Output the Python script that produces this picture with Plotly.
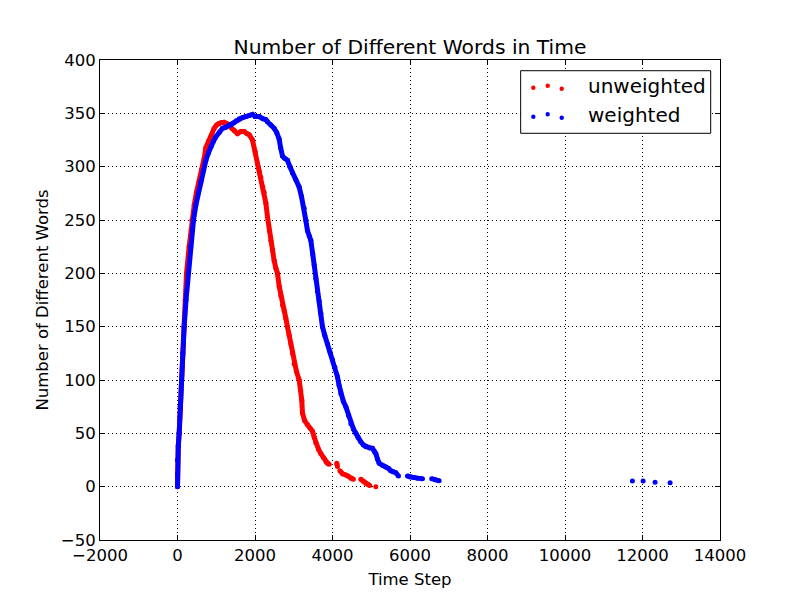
import plotly.graph_objects as go

# time step / number of different words, None = gap between point clusters
unweighted_x = [0, 0, 0, 20, 43, 70, 103, 135, 172, 200, 232, 300, 371, 431, 490, 560, 620, 689,
                733, 800, 862, 947, 1010, 1076, 1140, 1205, 1270, 1334, 1400, 1463, 1548, 1636,
                1721, 1790, 1850, 1935, 2005, 2064, 2110, 2151, 2200, 2237, 2280, 2322, 2370, 2408,
                2451, 2494, 2537, 2580, 2623, 2666, 2710, 2752, 2795, 2838, 2880, 2924, 2967, 3010,
                3070, 3139, 3180, 3208, 3225, 3280, 3354, 3420, 3483, 3530, 3570, 3640, 3700, 3770,
                3828, 3870, 3914, None, 4110, 4128, None, 4190, 4260, 4343, 4400, 4473, 4540, None,
                4730, 4790, 4860, 4920, 4960, None, 5118]
unweighted_y = [0, 12, 25, 38, 50, 75, 100, 125, 150, 175, 200, 225, 250, 264, 276, 286, 297, 308,
                318, 324, 328, 336, 339, 340.7, 341.5, 341.6, 340.5, 339, 336, 334, 331, 333,
                333, 331, 330, 325, 314, 303, 296, 290, 281, 276, 266, 253, 240, 231,
                222, 212, 205, 200, 188, 179, 170, 165, 158, 150, 142, 134, 125, 115,
                108, 100, 90, 81, 69, 62, 58, 55, 52, 46, 41, 35, 31, 27,
                23.5, 22, 21, None, 22, 19, None, 15, 12, 11, 10, 8, 7, None,
                7, 5, 3, 2, 1, None, 0]

weighted_x = [0, 0, 0, 20, 43, 70, 103, 135, 172, 220, 276, 340, 413, 474, 540, 603, 670, 733,
              800, 862, 930, 990, 1076, 1162, 1250, 1334, 1378, 1450, 1520, 1592, 1680, 1764,
              1850, 1935, 2000, 2108, 2200, 2280, 2322, 2410, 2494, 2560, 2623, 2660, 2709, 2760,
              2838, 2900, 2967, 3050, 3139, 3200, 3268, 3310, 3354, 3400, 3440, 3490, 3527, 3570,
              3612, 3656, 3700, 3741, 3800, 3870, 3930, 4000, 4060, 4128, 4170, 4215, 4280, 4344,
              4410, 4473, 4540, 4602, 4660, 4730, 4800, 4860, 4950, 5030, 5080, 5118, 5160, 5204,
              5290, 5376, 5450, 5500, 5560, 5634, 5703, None, 5935, 6000, 6100, 6200, 6322, None,
              6560, 6650, 6752, None, 11740, None, 12016, None, 12325, None, 12712]
weighted_y = [0, 12, 25, 38, 50, 75, 100, 125, 150, 175, 200, 225, 250, 264, 276, 286, 297, 306,
              313, 319, 324, 328, 332, 336, 337, 339, 339, 341, 343, 345, 346, 347,
              348, 349, 347, 347, 345, 344, 342, 339, 336, 332, 326, 318, 310, 308,
              306, 300, 294, 288, 281, 272, 261, 250, 240, 235, 231, 218, 208, 195,
              183, 174, 162, 150, 142, 134, 127, 119, 112, 103, 95, 87, 80, 75,
              67, 59, 54, 50, 46, 42, 39, 37.5, 36.5, 36, 33, 31, 26, 22,
              20, 18.5, 17, 15, 14, 13, 10, None, 10, 9, 8.5, 8, 7.5, None,
              7.5, 6.5, 5.5, None, 5.3, None, 5.3, None, 4.1, None, 3.75]

series_names = ["unweighted", "weighted"]
series_colors = ["#ff0000", "#0000ff"]

font = "DejaVu Sans, Arial, sans-serif"

fig = go.Figure()
for name, xs, ys, col in zip(series_names, [unweighted_x, weighted_x], [unweighted_y, weighted_y], series_colors):
    fig.add_trace(go.Scatter(x=xs, y=ys, name=name, mode="lines+markers",
                             line=dict(color=col, width=5), marker=dict(color=col, size=5),
                             connectgaps=False, showlegend=False))

axis_style = dict(showline=True, linecolor="black", linewidth=1, mirror="ticks",
                  ticks="inside", ticklen=5, tickcolor="black", tickwidth=1,
                  showgrid=True, gridcolor="black", gridwidth=1, griddash="1px,3px",
                  zeroline=False, tickformat="d",
                  tickfont=dict(family=font, size=16.5, color="black"))

fig.update_xaxes(range=[-2000, 14000], dtick=2000, tick0=0,
                 title=dict(text="Time Step", standoff=9, font=dict(family=font, size=16.5, color="black")),
                 **axis_style)
fig.update_yaxes(range=[-50, 400], dtick=50, tick0=0,
                 title=dict(text="Number of Different Words", standoff=8, font=dict(family=font, size=16.5, color="black")),
                 **axis_style)

# hand-made legend box like matplotlib's scatter legend (3 dots per entry)
shapes = [dict(type="rect", xref="paper", yref="paper", x0=0.6785, x1=0.985, y0=0.8473, y1=0.9777,
               line=dict(color="black", width=1), fillcolor="white")]
dot_x = [0.6989, 0.7221, 0.7447]
dot_y = {"unweighted": [0.9423, 0.9465, 0.9402], "weighted": [0.8819, 0.8869, 0.8798]}
label_y = {"unweighted": 0.9458, "weighted": 0.8854}
annotations = []
for name, col in zip(series_names, series_colors):
    for dx, dy in zip(dot_x, dot_y[name]):
        shapes.append(dict(type="circle", xref="paper", yref="paper", xsizemode="pixel", ysizemode="pixel",
                           xanchor=dx, yanchor=dy, x0=-2.2, x1=2.2, y0=-2.2, y1=2.2,
                           fillcolor=col, line=dict(color=col, width=0)))
    annotations.append(dict(text=name, xref="paper", yref="paper", x=0.7839, y=label_y[name],
                            xanchor="left", yanchor="middle", showarrow=False,
                            font=dict(family=font, size=20, color="black")))

# page body adds an 8px offset, so margins are shifted by that much
fig.update_layout(
    width=800, height=600,
    margin=dict(l=92, r=88, t=52, b=68),
    paper_bgcolor="white", plot_bgcolor="white",
    title=dict(text="Number of Different Words in Time", x=0.5, xref="paper",
               y=1 - 39 / 600, yanchor="middle", font=dict(family=font, size=20.3, color="black")),
    shapes=shapes, annotations=annotations,
    showlegend=False,
)

fig.write_html("out.html")
